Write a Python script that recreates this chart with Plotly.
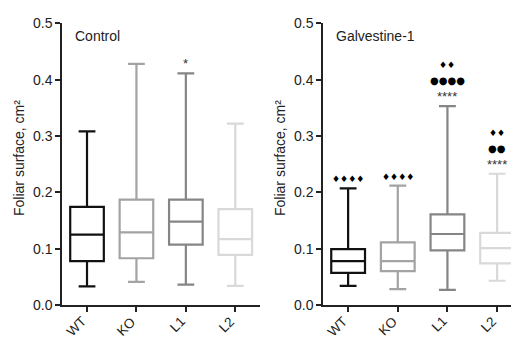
import plotly.graph_objects as go

# ---- data ----
categories = ["WT", "KO", "L1", "L2"]
colors = ["#111111", "#a3a3a3", "#858585", "#d9d9d9"]

# Control panel
ctrl_lower = [0.033, 0.041, 0.036, 0.034]
ctrl_q1 = [0.078, 0.083, 0.107, 0.089]
ctrl_median = [0.125, 0.129, 0.148, 0.117]
ctrl_q3 = [0.174, 0.187, 0.187, 0.170]
ctrl_upper = [0.308, 0.428, 0.411, 0.322]
ctrl_marks = [[], [], ["*"], []]

# Galvestine-1 panel
galv_lower = [0.034, 0.028, 0.027, 0.043]
galv_q1 = [0.057, 0.060, 0.097, 0.074]
galv_median = [0.078, 0.078, 0.126, 0.101]
galv_q3 = [0.099, 0.111, 0.161, 0.128]
galv_upper = [0.207, 0.212, 0.353, 0.233]
galv_marks = [["♦♦♦♦"], ["♦♦♦♦"], ["****", "●●●●", "♦♦"], ["****", "●●", "♦♦"]]

y_ticks = [0.0, 0.1, 0.2, 0.3, 0.4, 0.5]
panel_titles = ["Control", "Galvestine-1"]
y_title = "Foliar surface, cm²"

FONT = "Liberation Sans, Arial, sans-serif"

fig = go.Figure()

panels = [
    ("x", "y", ctrl_lower, ctrl_q1, ctrl_median, ctrl_q3, ctrl_upper, ctrl_marks),
    ("x2", "y2", galv_lower, galv_q1, galv_median, galv_q3, galv_upper, galv_marks),
]

for xa, ya, lo, q1, med, q3, up, marks in panels:
    for i, cat in enumerate(categories):
        fig.add_trace(go.Box(
            x=[cat], q1=[q1[i]], median=[med[i]], q3=[q3[i]],
            lowerfence=[lo[i]], upperfence=[up[i]],
            xaxis=xa, yaxis=ya, width=0.68, whiskerwidth=0.5,
            line=dict(color=colors[i], width=2.2),
            fillcolor="rgba(255,255,255,0)", boxpoints=False,
            showlegend=False, hoverinfo="skip",
        ))
        # significance marks stacked above the upper whisker
        for k, m in enumerate(marks[i]):
            is_star = "*" in m
            is_diamond = "♦" in m
            fig.add_annotation(
                x=cat, y=up[i], xref=xa, yref=ya, text=m, showarrow=False,
                yanchor="bottom", yshift=(0 if is_star else 2) + k * 16,
                font=dict(family=FONT if is_star else "DejaVu Sans, sans-serif",
                          size=13 if is_star else (9 if is_diamond else 10),
                          color="#333333" if is_star else "#000000"),
            )
        # rotated category labels under the axis
        fig.add_annotation(
            x=cat, xref=xa, y=(338 - 311) / 338, yref="paper", text=cat,
            showarrow=False, textangle=-45, xanchor="right", yanchor="top",
            xshift=5, font=dict(family=FONT, size=13.5, color="#222222"),
        )

axis_common = dict(
    showline=True, linecolor="#222222", linewidth=2, ticks="outside",
    tickwidth=2, ticklen=5, tickcolor="#222222", showgrid=False, zeroline=False,
    automargin=False,
    tickfont=dict(family=FONT, size=14, color="#222222"),
)

fig.update_layout(
    template="none",
    width=511, height=338, margin=dict(l=0, r=0, t=0, b=0),
    plot_bgcolor="white", paper_bgcolor="white",
    xaxis=dict(domain=[62.3 / 511, 260 / 511], range=[-0.5, 3.5], anchor="y",
               type="category", categoryorder="array", categoryarray=categories,
               showticklabels=False, **axis_common),
    yaxis=dict(domain=[33 / 338, 314.7 / 338], range=[0, 0.5], anchor="x",
               tickvals=y_ticks, tickformat=".1f", **axis_common),
    xaxis2=dict(domain=[323.3 / 511, 1.0], range=[-0.5, 3.28], anchor="y2",
                type="category", categoryorder="array", categoryarray=categories,
                showticklabels=False, **axis_common),
    yaxis2=dict(domain=[33 / 338, 314.7 / 338], range=[0, 0.5], anchor="x2",
                tickvals=y_ticks, tickformat=".1f", **axis_common),
)

# panel titles and y titles
for title, xp in zip(panel_titles, [73 / 511, 334 / 511]):
    fig.add_annotation(x=xp, y=(338 - 36) / 338, xref="paper", yref="paper",
                       text=title, showarrow=False, xanchor="left", yanchor="middle",
                       font=dict(family=FONT, size=14, color="#222222"))
for xp in [19 / 511, 280 / 511]:
    fig.add_annotation(x=xp, y=(338 - 158) / 338, xref="paper", yref="paper",
                       text=y_title, showarrow=False, textangle=-90,
                       xanchor="center", yanchor="middle",
                       font=dict(family=FONT, size=14, color="#222222"))

fig.write_html(
    "out.html",
    config={"displayModeBar": False},
    post_script="document.body.style.margin='0';document.body.style.overflow='hidden';",
)
